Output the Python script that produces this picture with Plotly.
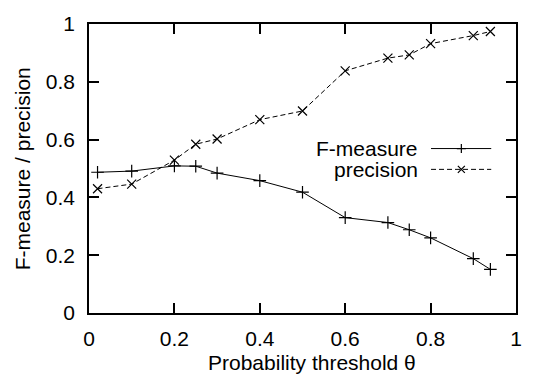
import plotly.graph_objects as go

thresholds = [0.02, 0.1, 0.2, 0.25, 0.3, 0.4, 0.5, 0.6, 0.7, 0.75, 0.8, 0.9, 0.94]
f_measure = [0.487, 0.491, 0.509, 0.508, 0.484, 0.458, 0.418, 0.330, 0.313, 0.288, 0.260, 0.188, 0.151]
precision = [0.430, 0.446, 0.529, 0.584, 0.602, 0.669, 0.699, 0.838, 0.882, 0.893, 0.932, 0.960, 0.974]
series_names = ["F-measure", "precision"]
tick_vals = [0, 0.2, 0.4, 0.6, 0.8, 1]
tick_text = ["0", "0.2", "0.4", "0.6", "0.8", "1"]
x_title = "Probability threshold θ"
y_title = "F-measure / precision"

FONT = "Liberation Sans, Arial, Helvetica, sans-serif"
FS = 21

fig = go.Figure()
fig.add_trace(go.Scatter(
    x=thresholds, y=f_measure, mode="lines+markers", name=series_names[0],
    line=dict(color="black", width=1),
    marker=dict(symbol="cross-thin-open", size=9, line=dict(color="black", width=1.2)),
    showlegend=False))
fig.add_trace(go.Scatter(
    x=thresholds, y=precision, mode="lines+markers", name=series_names[1],
    line=dict(color="black", width=1, dash="5px,3px"),
    marker=dict(symbol="x-thin-open", size=9, line=dict(color="black", width=1.2)),
    showlegend=False))

axis_common = dict(
    range=[0, 1], tickvals=tick_vals, ticktext=tick_text,
    showgrid=False, zeroline=False, showline=True, linecolor="black", linewidth=1.5,
    mirror="allticks", ticks="inside", ticklen=10, tickwidth=1.5, tickcolor="black",
    tickfont=dict(family=FONT, size=FS, color="black"),
)
fig.update_xaxes(**axis_common, ticklabelstandoff=6)
fig.update_yaxes(**axis_common, ticklabelstandoff=8)

# axis titles
fig.add_annotation(text=x_title, xref="paper", yref="paper", x=0.523, y=-0.17,
                   xanchor="center", yanchor="middle", showarrow=False,
                   font=dict(family=FONT, size=FS, color="black"))
fig.add_annotation(text=y_title, xref="paper", yref="paper", x=-0.155, y=0.5,
                   xanchor="center", yanchor="middle", showarrow=False, textangle=-90,
                   font=dict(family=FONT, size=FS, color="black"))

# gnuplot-style key: text left, sample right
key_rows = [(0.569, None, "cross"), (0.497, "5px,3px", "x")]
for name, (ky, dash, sym) in zip(series_names, key_rows):
    fig.add_annotation(text=name, xref="paper", yref="paper", x=0.776, y=ky,
                       xanchor="right", yanchor="middle", showarrow=False,
                       font=dict(family=FONT, size=FS, color="black"))
    fig.add_shape(type="line", xref="paper", yref="paper", x0=0.801, x1=0.942, y0=ky, y1=ky,
                  line=dict(color="black", width=1, dash=dash))
    path = "M-4.5,0L4.5,0M0,-4.5L0,4.5" if sym == "cross" else "M-3.5,-3.5L3.5,3.5M-3.5,3.5L3.5,-3.5"
    fig.add_shape(type="path", xref="paper", yref="paper", xsizemode="pixel", ysizemode="pixel",
                  xanchor=0.872, yanchor=ky, path=path, line=dict(color="black", width=1.2))

fig.update_layout(
    width=534, height=379, margin=dict(l=89, r=12, t=13, b=66),
    paper_bgcolor="white", plot_bgcolor="white",
    font=dict(family=FONT, size=FS, color="black"),
)
fig.write_html("out.html")
